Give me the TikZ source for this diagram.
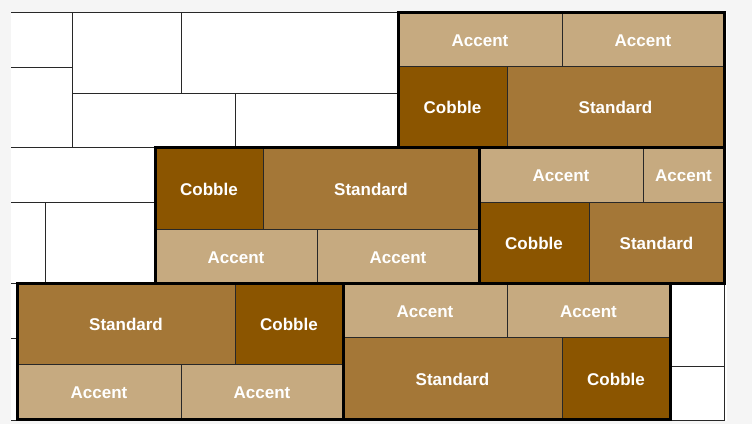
\documentclass[tikz,border=0pt]{standalone}
\usepackage{fontspec}
\setmainfont{Liberation Sans}
\usepackage{tikz}
\usetikzlibrary{positioning}
\usepackage{xcolor}
\definecolor{pvaccent}{RGB}{198,170,128}
\definecolor{pvstandard}{RGB}{164,119,55}
\definecolor{pvcobble}{RGB}{139,85,0}
\definecolor{pvjoint}{RGB}{40,40,40}
\tikzstyle{brick} = [rectangle, inner sep=0pt, outer sep=0pt, draw=pvjoint, line width=1pt, text=white, font=\bfseries\fontsize{17}{20}\selectfont, text height=14.5pt, text depth=0pt, text centered]
\tikzstyle{accentbrick} = [brick, fill=pvaccent, minimum height=54pt]
\tikzstyle{standardbrick} = [brick, fill=pvstandard, minimum height=81pt]
\tikzstyle{cobblebrick} = [brick, fill=pvcobble, minimum height=81pt]
\tikzstyle{bondframe} = [line width=3pt, draw=black, line join=miter]
\tikzstyle{joint} = [line width=1pt, draw=pvjoint]

\begin{document}
\begin{tikzpicture}[x=1pt, y=-1pt]
\useasboundingbox (0,0) rectangle (752,424);
\fill[gray!8] (0,0) rectangle (752,424);
\fill[white] (11,12) rectangle (727,421);

% Empty paving around the laid bands
\draw[joint] (11,12) -- (724,12) -- (724,420) -- (11,420);
\draw[joint] (72,12) -- (72,147);
\draw[joint] (11,67) -- (72,67);
\draw[joint] (181,12) -- (181,93);
\draw[joint] (72,93) -- (398,93);
\draw[joint] (235,93) -- (235,147);
\draw[joint] (11,147) -- (155,147);
\draw[joint] (11,202) -- (155,202);
\draw[joint] (45,202) -- (45,283);
\draw[joint] (11,283) -- (17,283);
\draw[joint] (11,338) -- (17,338);
\draw[joint] (670,366) -- (724,366);

% Top right band
\node (tra1) [accentbrick, minimum width=164pt, anchor=north west] at (398,12) {Accent};
\node (tra2) [accentbrick, minimum width=162pt, right=0pt of tra1] {Accent};
\node (trc) [cobblebrick, minimum width=109pt, anchor=north west] at (tra1.south west) {Cobble};
\node (trs) [standardbrick, minimum width=217pt, right=0pt of trc] {Standard};

% Middle left band
\node (mlc) [cobblebrick, minimum width=108pt, minimum height=82pt, anchor=north west] at (155,147) {Cobble};
\node (mls) [standardbrick, minimum width=216pt, minimum height=82pt, right=0pt of mlc] {Standard};
\node (mla1) [accentbrick, minimum width=162pt, anchor=north west] at (mlc.south west) {Accent};
\node (mla2) [accentbrick, minimum width=162pt, right=0pt of mla1] {Accent};

% Middle right band
\node (mra1) [accentbrick, minimum width=164pt, minimum height=55pt, anchor=north west] at (479,147) {Accent};
\node (mra2) [accentbrick, minimum width=81pt, minimum height=55pt, right=0pt of mra1] {Accent};
\node (mrc) [cobblebrick, minimum width=110pt, anchor=north west] at (mra1.south west) {Cobble};
\node (mrs) [standardbrick, minimum width=135pt, right=0pt of mrc] {Standard};

% Bottom left band
\node (bls) [standardbrick, minimum width=218pt, anchor=north west] at (17,283) {Standard};
\node (blc) [cobblebrick, minimum width=108pt, right=0pt of bls] {Cobble};
\node (bla1) [accentbrick, minimum width=164pt, minimum height=55pt, anchor=north west] at (bls.south west) {Accent};
\node (bla2) [accentbrick, minimum width=162pt, minimum height=55pt, right=0pt of bla1] {Accent};

% Bottom right band
\node (bra1) [accentbrick, minimum width=164pt, anchor=north west] at (343,283) {Accent};
\node (bra2) [accentbrick, minimum width=163pt, right=0pt of bra1] {Accent};
\node (brs) [standardbrick, minimum width=219pt, minimum height=82pt, anchor=north west] at (bra1.south west) {Standard};
\node (brc) [cobblebrick, minimum width=108pt, minimum height=82pt, right=0pt of brs] {Cobble};

% Band outlines
\draw[bondframe] (tra1.north west) rectangle (trs.south east);
\draw[bondframe] (mlc.north west) rectangle (mla2.south east);
\draw[bondframe] (mra1.north west) rectangle (mrs.south east);
\draw[bondframe] (bls.north west) rectangle (bla2.south east);
\draw[bondframe] (bra1.north west) rectangle (brc.south east);
\end{tikzpicture}
\end{document}
